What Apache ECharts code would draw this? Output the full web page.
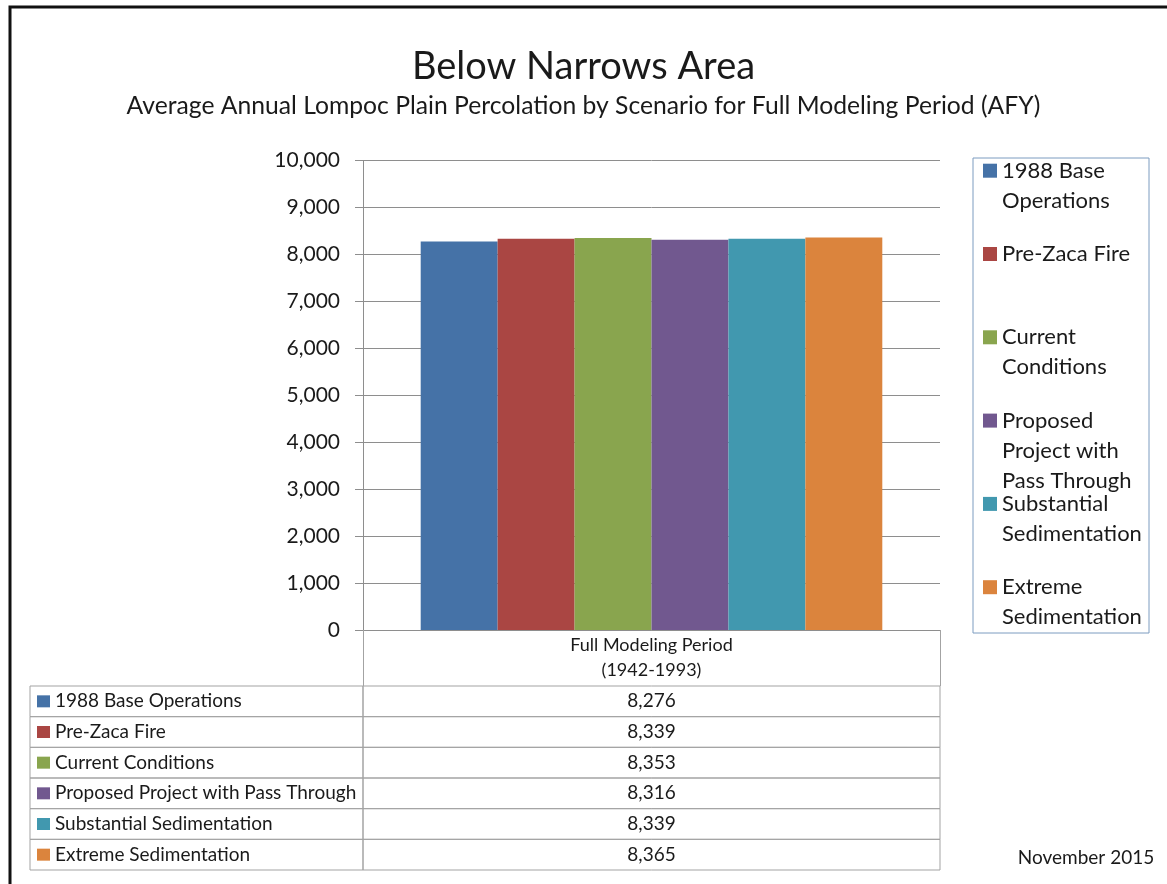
<!DOCTYPE html>
<html>
<head>
<meta charset="utf-8">
<script src="https://cdn.jsdelivr.net/npm/echarts@6/dist/echarts.min.js"></script>
<style>
html, body { margin: 0; padding: 0; background: #fff; }
#chart { width: 1167px; height: 884px; }
</style>
</head>
<body>
<div id="chart"></div>
<script>
// data
const scenarios = [
  '1988 Base Operations',
  'Pre-Zaca Fire',
  'Current Conditions',
  'Proposed Project with Pass Through',
  'Substantial Sedimentation',
  'Extreme Sedimentation'
]
const legendLabels = [
  '1988 Base\nOperations',
  'Pre-Zaca Fire',
  'Current\nConditions',
  'Proposed\nProject with\nPass Through',
  'Substantial\nSedimentation',
  'Extreme\nSedimentation'
]
const periods = ['Full Modeling Period\n(1942-1993)']
const values = [8276, 8339, 8353, 8316, 8339, 8365]
const colors = ['#4572A7', '#AA4643', '#89A54E', '#71588F', '#4198AF', '#DB843D']
const yMin = 0
const yMax = 10000
const yStep = 1000

const FONT = 'Lato'
const TEXT = '#1a1a1a'
const GRID_LINE = '#8e8e8e'
const TABLE_LINE = '#a3a3a3'

function fmt(v) { return v.toLocaleString('en-US') }

// legend: one component per entry so the spacing follows Excel's layout.
// The icon is centred on the text block, so blank lines are put in front
// to bring the first text line level with the icon.
const LEG_LINE = 30
const legends = scenarios.map((name, i) => {
  const n = legendLabels[i].split('\n').length
  const firstLine = 170.7 + i * 83.3
  return {
    data: [name],
    orient: 'vertical',
    left: 983,
    top: firstLine - (2 * n - 1) * LEG_LINE / 2,
    padding: 0,
    icon: 'rect',
    itemWidth: 14,
    itemHeight: 14,
    selectedMode: false,
    formatter: () => '\n'.repeat(n - 1) + legendLabels[i],
    textStyle: { fontFamily: FONT, fontSize: 22, color: TEXT, lineHeight: LEG_LINE }
  }
})

const barSeries = scenarios.map((name, i) => ({
  name: name,
  type: 'bar',
  xAxisIndex: 0,
  yAxisIndex: 0,
  barGap: '0%',
  barCategoryGap: '20%',
  itemStyle: { color: colors[i] },
  data: [values[i]]
}))

const LABEL_COL = 333

const tableSeries = {
  type: 'custom',
  xAxisIndex: 1,
  yAxisIndex: 1,
  silent: true,
  clip: false,
  data: scenarios.map((s, i) => [0.5, i, values[i]]),
  renderItem(params, api) {
    const i = api.value(1)
    const c = api.coord([0, i])
    const h = api.size([0, 1])[1]
    const cs = params.coordSys
    const top = c[1] - h / 2
    const split = cs.x + LABEL_COL
    const valW = cs.width - LABEL_COL
    return {
      type: 'group',
      children: [
        { type: 'rect', shape: { x: cs.x, y: top, width: LABEL_COL, height: h },
          style: { fill: 'none', stroke: TABLE_LINE, lineWidth: 1 } },
        { type: 'rect', shape: { x: split, y: top, width: valW, height: h },
          style: { fill: 'none', stroke: TABLE_LINE, lineWidth: 1 } },
        { type: 'rect', shape: { x: cs.x + 7, y: c[1] - 6, width: 13, height: 12 },
          style: { fill: colors[i] } },
        { type: 'text', style: { text: scenarios[i], x: cs.x + 25, y: c[1],
          verticalAlign: 'middle', fontFamily: FONT, fontSize: 19, fill: TEXT } },
        { type: 'text', style: { text: fmt(api.value(2)), x: split + valW / 2, y: c[1],
          align: 'center', verticalAlign: 'middle', fontFamily: FONT, fontSize: 19, fill: TEXT } }
      ]
    }
  }
}

const option = {
  backgroundColor: '#fff',
  animation: false,
  title: [
    { text: 'Below Narrows Area', left: 'center', top: 42,
      textStyle: { fontFamily: FONT, fontSize: 38, fontWeight: 'normal', color: TEXT, lineHeight: 40 } },
    { text: 'Average Annual Lompoc Plain Percolation by Scenario for Full Modeling Period (AFY)',
      left: 'center', top: 88,
      textStyle: { fontFamily: FONT, fontSize: 24.7, fontWeight: 'normal', color: TEXT, lineHeight: 26 } },
    { text: 'November 2015', left: 1081, top: 841, textAlign: 'center',
      textStyle: { fontFamily: FONT, fontSize: 19, fontWeight: 'normal', color: TEXT, lineHeight: 24 } }
  ],
  legend: legends,
  grid: [
    { left: 363, right: 227, top: 160.7, bottom: 254 },
    { left: 30, right: 227, top: 686, bottom: 14 }
  ],
  xAxis: [
    {
      type: 'category',
      gridIndex: 0,
      data: periods,
      axisLine: { show: true, lineStyle: { color: GRID_LINE } },
      axisTick: { show: true, length: 56, lineStyle: { color: TABLE_LINE } },
      axisLabel: { margin: 3, fontFamily: FONT, fontSize: 18, lineHeight: 25, color: TEXT }
    },
    { type: 'value', gridIndex: 1, min: 0, max: 1, show: false }
  ],
  yAxis: [
    {
      type: 'value',
      gridIndex: 0,
      min: yMin,
      max: yMax,
      interval: yStep,
      axisLine: { show: true, lineStyle: { color: GRID_LINE } },
      axisTick: { show: true, length: 8, lineStyle: { color: GRID_LINE } },
      splitLine: { show: true, lineStyle: { color: GRID_LINE } },
      axisLabel: { margin: 23, fontFamily: FONT, fontSize: 21, color: TEXT, formatter: v => fmt(v) }
    },
    { type: 'category', gridIndex: 1, data: scenarios, inverse: true, show: false }
  ],
  graphic: [
    // outer frame
    { type: 'rect', shape: { x: 10, y: 7, width: 1200, height: 920 },
      style: { fill: 'none', stroke: '#111', lineWidth: 3 }, silent: true },
    // legend box
    { type: 'rect', shape: { x: 973, y: 158, width: 176, height: 475 },
      style: { fill: 'none', stroke: '#7d9cc0', lineWidth: 1 }, silent: true }
  ],
  series: [...barSeries, tableSeries]
}

const chart = echarts.init(document.getElementById('chart'))
chart.setOption(option)
</script>
</body>
</html>
